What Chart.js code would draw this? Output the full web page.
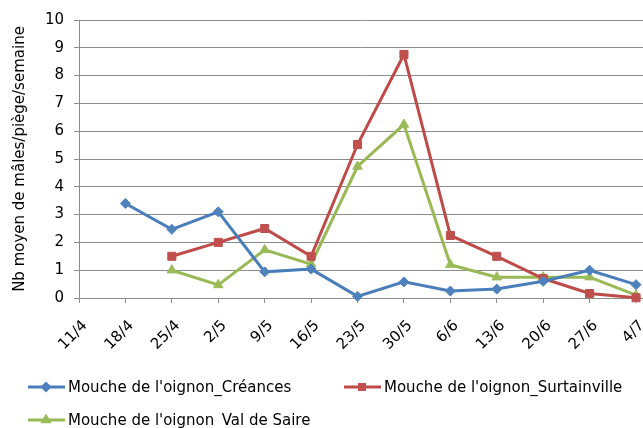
<!DOCTYPE html>
<html>
<head>
<meta charset="utf-8">
<script src="https://cdn.jsdelivr.net/npm/chart.js@4.4.1/dist/chart.umd.min.js"></script>
<style>
    html, body { margin: 0; padding: 0; background: #fff; }
    #wrap { width: 643px; height: 428px; position: relative; }
</style>
</head>
<body>
<div id="wrap"><canvas id="chart"></canvas></div>
<script>
// Weekly trap dates
const dates = ['11/4', '18/4', '25/4', '2/5', '9/5', '16/5', '23/5', '30/5', '6/6', '13/6', '20/6', '27/6', '4/7'];

// Mean number of males per trap per week
const creances = [null, 3.4, 2.47, 3.1, 0.94, 1.04, 0.06, 0.58, 0.25, 0.32, 0.6, 1.0, 0.48];
const surtainville = [null, null, 1.5, 2.0, 2.5, 1.5, 5.52, 8.76, 2.25, 1.5, 0.7, 0.16, 0.01];
const valDeSaire = [null, null, 1.0, 0.47, 1.73, 1.22, 4.73, 6.24, 1.2, 0.75, 0.75, 0.75, 0.1];

const seriesNames = ["Mouche de l'oignon_Créances", "Mouche de l'oignon_Surtainville", "Mouche de l'oignon_Val de Saire"];

const FONT = 'DejaVu Sans';
const GRID = '#8c8c8c';

function toPoints(values) {
    return values.map((v, i) => ({ x: i, y: v }));
}

// Legend drawn by hand, Excel-style (left aligned, two columns)
const bottomLegend = {
    id: 'bottomLegend',
    afterDraw(chart) {
        const ctx = chart.ctx;
        const spots = [{ x: 28, y: 387 }, { x: 344, y: 387 }, { x: 28, y: 420 }];
        chart.data.datasets.forEach((ds, i) => {
            const p = spots[i];
            ctx.save();
            ctx.strokeStyle = ds.borderColor;
            ctx.lineWidth = 3;
            ctx.beginPath();
            ctx.moveTo(p.x, p.y);
            ctx.lineTo(p.x + 37, p.y);
            ctx.stroke();
            ctx.fillStyle = ds.pointBackgroundColor;
            ctx.strokeStyle = ds.pointBorderColor;
            Chart.helpers.drawPoint(ctx, { pointStyle: ds.pointStyle, radius: 3.5, borderWidth: 1, rotation: 0 }, p.x + 18, p.y);
            ctx.fillStyle = '#000';
            ctx.font = '15px "' + FONT + '"';
            ctx.textBaseline = 'middle';
            ctx.fillText(ds.label, p.x + 40, p.y + 1);
            ctx.restore();
        });
    }
};

const ctx = document.getElementById('chart').getContext('2d');

new Chart(ctx, {
    type: 'line',
    data: {
        datasets: [
            {
                label: seriesNames[0],
                data: toPoints(creances),
                borderColor: '#4A7EBB',
                pointBackgroundColor: '#4F81BD',
                pointBorderColor: '#4F81BD',
                pointStyle: 'rectRot',
                pointRadius: 5
            },
            {
                label: seriesNames[1],
                data: toPoints(surtainville),
                borderColor: '#BE4B48',
                pointBackgroundColor: '#C0504D',
                pointBorderColor: '#C0504D',
                pointStyle: 'rect',
                pointRadius: 5.7
            },
            {
                label: seriesNames[2],
                data: toPoints(valDeSaire),
                borderColor: '#98B954',
                pointBackgroundColor: '#9BBB59',
                pointBorderColor: '#9BBB59',
                pointStyle: 'triangle',
                pointRadius: 5.5
            }
        ]
    },
    options: {
        responsive: true,
        maintainAspectRatio: false,
        animation: false,
        layout: { autoPadding: false, padding: { top: 20, right: 0, bottom: 0, left: 0 } },
        elements: {
            line: { borderWidth: 3, tension: 0, spanGaps: false },
            point: { borderWidth: 1, hoverRadius: 5 }
        },
        clip: false,
        scales: {
            x: {
                type: 'linear',
                min: 0,
                max: 12.15,
                afterBuildTicks: scale => {
                    scale.ticks = scale.ticks.filter(t => Number.isInteger(t.value));
                },
                afterFit: scale => {
                    scale.height = 130;
                    scale.paddingRight = 0;
                },
                ticks: {
                    stepSize: 1,
                    includeBounds: false,
                    autoSkip: false,
                    maxRotation: 45,
                    minRotation: 45,
                    padding: 14,
                    labelOffset: 6,
                    color: '#000',
                    font: { family: FONT, size: 15 },
                    callback: value => dates[value] || ''
                },
                grid: { drawOnChartArea: false, drawTicks: true, tickLength: 5, color: GRID },
                border: { color: GRID, width: 1 }
            },
            y: {
                min: 0,
                max: 10,
                afterFit: scale => { scale.width = 79; },
                ticks: {
                    stepSize: 1,
                    padding: 10,
                    color: '#000',
                    font: { family: FONT, size: 15 }
                },
                grid: { color: GRID, tickLength: 5 },
                border: { color: GRID, width: 1 },
                title: {
                    display: true,
                    text: 'Nb moyen de mâles/piège/semaine',
                    color: '#000',
                    font: { family: FONT, size: 15 },
                    padding: { top: 11, bottom: 0 }
                }
            }
        },
        plugins: {
            legend: { display: false },
            tooltip: { enabled: false }
        }
    },
    plugins: [bottomLegend]
});
</script>
</body>
</html>
